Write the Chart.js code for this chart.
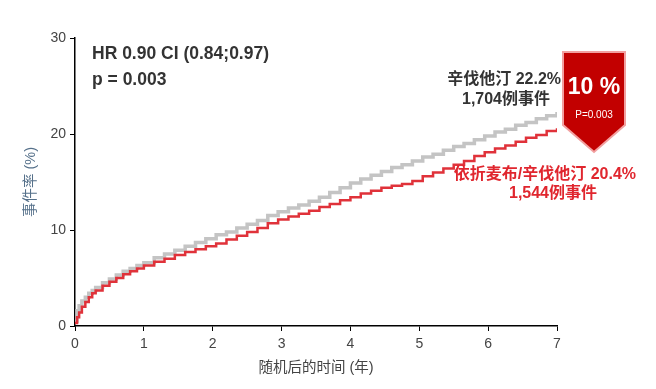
<!DOCTYPE html>
<html>
<head>
<meta charset="utf-8">
<script src="https://cdn.jsdelivr.net/npm/chart.js@4/dist/chart.umd.min.js"></script>
<style>
  html, body { margin: 0; padding: 0; background: #fff; }
  #wrap { width: 656px; height: 389px; }
</style>
</head>
<body>
<div id="wrap"><canvas id="km"></canvas></div>
<script>
var FONT = '"Liberation Sans", Arial, "Noto Sans CJK SC", sans-serif';

// years after randomisation
var years = [0, 0.03, 0.06, 0.1, 0.15, 0.2, 0.25, 0.3, 0.4, 0.5, 0.6, 0.7, 0.8, 0.9, 1.0,
  1.15, 1.3, 1.45, 1.6, 1.75, 1.9, 2.05, 2.2, 2.35, 2.5, 2.65, 2.8, 2.95, 3.1, 3.25,
  3.4, 3.55, 3.7, 3.85, 4.0, 4.15, 4.3, 4.45, 4.6, 4.75, 4.9, 5.05, 5.2, 5.35, 5.5,
  5.65, 5.8, 5.95, 6.1, 6.25, 6.4, 6.55, 6.7, 6.85, 7.0];

// 辛伐他汀 (gray)
var simva = [0.5, 1.6, 2.1, 2.6, 3.0, 3.4, 3.7, 4.0, 4.5, 4.9, 5.3, 5.7, 6.0, 6.3, 6.6,
  7.1, 7.5, 7.9, 8.3, 8.7, 9.1, 9.5, 9.8, 10.2, 10.6, 11.0, 11.5, 11.9, 12.3, 12.6,
  13.0, 13.4, 13.9, 14.4, 14.9, 15.3, 15.7, 16.1, 16.5, 16.8, 17.2, 17.6, 17.9, 18.3, 18.7,
  19.0, 19.4, 19.8, 20.2, 20.5, 20.9, 21.2, 21.6, 21.9, 22.3];

// 依折麦布/辛伐他汀 (red)
var ezeSimva = [0.3, 0.9, 1.4, 2.0, 2.5, 3.0, 3.4, 3.7, 4.2, 4.6, 5.0, 5.4, 5.7, 6.0, 6.3,
  6.7, 7.0, 7.4, 7.7, 8.0, 8.3, 8.6, 9.0, 9.4, 9.8, 10.2, 10.7, 11.1, 11.4, 11.7,
  12.0, 12.4, 12.7, 13.1, 13.4, 13.8, 14.1, 14.4, 14.6, 14.8, 15.1, 15.6, 16.0, 16.4, 16.8,
  17.2, 17.7, 18.1, 18.5, 18.8, 19.2, 19.6, 19.9, 20.3, 20.6];

var xTicks = [0, 1, 2, 3, 4, 5, 6, 7];
var yTicks = [0, 10, 20, 30];

function toPoints(ys) {
  return years.map(function(x, i) { return { x: x, y: ys[i] }; });
}

var annotations = {
  id: 'annotations',
  afterDraw: function(chart) {
    var c = chart.ctx;
    c.save();
    c.textBaseline = 'middle';

    c.fillStyle = '#333';
    c.textAlign = 'left';
    c.font = 'bold 17.5px ' + FONT;
    c.fillText('HR 0.90 CI (0.84;0.97)', 92, 54);
    c.fillText('p = 0.003', 92, 80);

    c.font = 'bold 16px ' + FONT;
    c.textAlign = 'right';
    c.fillText('辛伐他汀 22.2%', 561, 80);
    c.textAlign = 'center';
    c.fillText('1,704例事件', 506, 100);

    c.fillStyle = '#e0262e';
    c.textAlign = 'right';
    c.fillText('依折麦布/辛伐他汀 20.4%', 636, 175);
    c.textAlign = 'center';
    c.fillText('1,544例事件', 553, 194);

    // badge
    c.beginPath();
    c.moveTo(563, 52);
    c.lineTo(625, 52);
    c.lineTo(625, 125);
    c.lineTo(594, 152);
    c.lineTo(563, 125);
    c.closePath();
    c.fillStyle = '#c20000';
    c.fill();
    c.lineWidth = 2;
    c.strokeStyle = '#f2a0a0';
    c.stroke();

    c.fillStyle = '#fff';
    c.textAlign = 'center';
    c.font = 'bold 23px ' + FONT;
    c.fillText('10 %', 594, 88);
    c.font = '10px ' + FONT;
    c.fillText('P=0.003', 594, 115);
    c.restore();
  }
};

new Chart(document.getElementById('km'), {
  type: 'line',
  data: {
    datasets: [{
      label: '依折麦布/辛伐他汀',
      data: toPoints(ezeSimva),
      borderColor: '#e0323a',
      borderWidth: 2.5,
      stepped: true,
      pointRadius: 0,
      fill: false
    }, {
      label: '辛伐他汀',
      data: toPoints(simva),
      borderColor: '#c4c4c4',
      borderWidth: 3.5,
      stepped: true,
      pointRadius: 0,
      fill: false
    }]
  },
  options: {
    responsive: true,
    maintainAspectRatio: false,
    animation: false,
    layout: { padding: { left: 18, right: 99, top: 38, bottom: 8 } },
    plugins: { legend: { display: false }, tooltip: { enabled: false } },
    scales: {
      x: {
        type: 'linear',
        min: 0,
        max: 7,
        afterBuildTicks: function(s) { s.ticks = xTicks.map(function(v) { return { value: v }; }); },
        afterFit: function(s) { s.height = 55; },
        border: { color: '#000', width: 1.5 },
        grid: { drawOnChartArea: false, drawTicks: true, tickLength: 5, color: '#000' },
        ticks: { color: '#444', font: { family: FONT, size: 14 }, padding: 5 },
        title: { display: true, text: '随机后的时间 (年)', color: '#444', font: { family: FONT, size: 14.5 }, padding: { top: 2 } }
      },
      y: {
        min: 0,
        max: 30,
        afterBuildTicks: function(s) { s.ticks = yTicks.map(function(v) { return { value: v }; }); },
        afterFit: function(s) { s.width = 57; },
        border: { color: '#000', width: 1.5 },
        grid: { drawOnChartArea: false, drawTicks: true, tickLength: 5, color: '#000' },
        ticks: { color: '#444', font: { family: FONT, size: 14 }, padding: 4 },
        title: { display: true, text: '事件率 (%)', color: '#55708a', font: { family: FONT, size: 14.5 }, padding: { bottom: 0 } }
      }
    }
  },
  plugins: [annotations]
});
</script>
</body>
</html>
